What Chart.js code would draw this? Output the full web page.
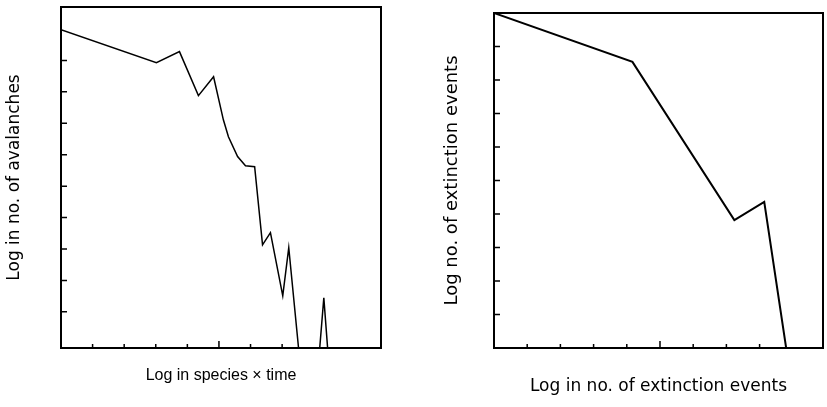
<!DOCTYPE html>
<html>
<head>
<meta charset="utf-8">
<script src="https://cdn.jsdelivr.net/npm/chart.js@4.4.1/dist/chart.umd.min.js"></script>
<style>
  body { margin: 0; background: #fff; }
  #wrap { position: relative; width: 827px; height: 407px; }
  canvas { position: absolute; top: 0; }
  #left { left: 0; }
  #right { left: 430px; }
</style>
</head>
<body>
<div id="wrap">
  <canvas id="left" width="400" height="407"></canvas>
  <canvas id="right" width="397" height="407"></canvas>
</div>
<script>
// left panel: avalanche size distribution
const avalancheX = [0, 3.02, 3.75, 4.35, 4.83, 5.14, 5.30, 5.59, 5.84, 6.13, 6.38, 6.63, 7.02, 7.21, 7.52, 8.19, 8.32, 8.44, 10.13];
const avalancheY = [9.98, 8.93, 9.28, 7.88, 8.48, 7.11, 6.57, 5.94, 5.65, 5.62, 3.13, 3.52, 1.51, 3.04, -0.15, -0.15, 1.45, -0.15, -0.15];

// right panel: extinction events
const extinctionX = [0, 4.17, 7.24, 8.14, 8.80, 9.91];
const extinctionY = [10, 8.54, 3.82, 4.36, 0, 0];

const leftXTicks = [1, 2, 3, 4, 5, 6, 7];
const leftYTicks = [1, 2, 3, 4, 5, 6, 7, 8, 9];
const rightXTicks = [1, 2, 3, 4, 5, 6, 7, 8];
const rightYTicks = [1, 2, 3, 4, 5, 6, 7, 8, 9];
const majorTick = 5;

const WIDE = '"DejaVu Sans", Verdana, sans-serif';
const NARROW = '"Liberation Sans", Arial, Helvetica, sans-serif';

// short tick marks pointing into the plot
const innerTicks = {
    id: 'innerTicks',
    afterDatasetsDraw(chart, args, opts) {
        const { ctx, chartArea, scales } = chart;
        ctx.save();
        ctx.strokeStyle = '#000';
        ctx.lineWidth = 1.5;
        ctx.beginPath();
        opts.x.forEach(v => {
            const px = scales.x.getPixelForValue(v);
            const len = v === majorTick ? 7 : 4;
            ctx.moveTo(px, chartArea.bottom);
            ctx.lineTo(px, chartArea.bottom - len);
        });
        opts.y.forEach(v => {
            const py = scales.y.getPixelForValue(v);
            ctx.moveTo(chartArea.left, py);
            ctx.lineTo(chartArea.left + 6, py);
        });
        ctx.stroke();
        ctx.restore();
    }
};

function frameAxis(position) {
    return {
        type: 'linear',
        position: position,
        ticks: { display: false },
        grid: { display: false, drawTicks: false },
        border: { display: true, color: '#000', width: 2 }
    };
}

function makeChart(id, xs, ys, o) {
    const points = xs.map((x, i) => ({ x: x, y: ys[i] }));
    return new Chart(document.getElementById(id), {
        type: 'line',
        data: {
            datasets: [{
                data: points,
                borderColor: '#000',
                borderWidth: o.lineWidth,
                pointRadius: 0,
                tension: 0,
                fill: false
            }]
        },
        plugins: [innerTicks],
        options: {
            responsive: false,
            animation: false,
            devicePixelRatio: 1,
            layout: { padding: o.padding },
            plugins: {
                legend: { display: false },
                tooltip: { enabled: false },
                innerTicks: { x: o.xTicks, y: o.yTicks }
            },
            scales: {
                x: {
                    type: 'linear',
                    min: o.xMin, max: o.xMax,
                    ticks: { display: false },
                    grid: { display: false, drawTicks: false },
                    border: { display: true, color: '#000', width: 2 },
                    title: {
                        display: true, text: o.xTitle, color: '#000',
                        font: o.xTitleFont,
                        padding: o.xTitlePad
                    }
                },
                y: {
                    type: 'linear',
                    min: o.yMin, max: o.yMax,
                    ticks: { display: false },
                    grid: { display: false, drawTicks: false },
                    border: { display: true, color: '#000', width: 2 },
                    title: {
                        display: true, text: o.yTitle, color: '#000',
                        font: o.yTitleFont,
                        padding: o.yTitlePad
                    }
                },
                x2: frameAxis('top'),
                y2: frameAxis('right')
            }
        }
    });
}

makeChart('left', avalancheX, avalancheY, {
    xMin: 0, xMax: 10.13, yMin: -0.15, yMax: 10.7,
    xTicks: leftXTicks, yTicks: leftYTicks,
    xTitle: 'Log in species \u00d7 time',
    yTitle: 'Log in no. of avalanches',
    xTitleFont: { family: NARROW, size: 16 },
    yTitleFont: { family: WIDE, size: 17 },
    xTitlePad: { top: 18.4, bottom: 21.4 },
    yTitlePad: { top: 4, bottom: 36.6 },
    padding: { top: 7, right: 19, left: 0, bottom: 0 },
    lineWidth: 1.5
});

makeChart('right', extinctionX, extinctionY, {
    xMin: 0, xMax: 9.91, yMin: 0, yMax: 10,
    xTicks: rightXTicks, yTicks: rightYTicks,
    xTitle: 'Log in no. of extinction events',
    yTitle: 'Log no. of extinction events',
    xTitleFont: { family: WIDE, size: 17 },
    yTitleFont: { family: WIDE, size: 18 },
    xTitlePad: { top: 28.8, bottom: 9.8 },
    yTitlePad: { top: 11.2, bottom: 31.2 },
    padding: { top: 13, right: 4, left: 0, bottom: 0 },
    lineWidth: 2
});
</script>
</body>
</html>
